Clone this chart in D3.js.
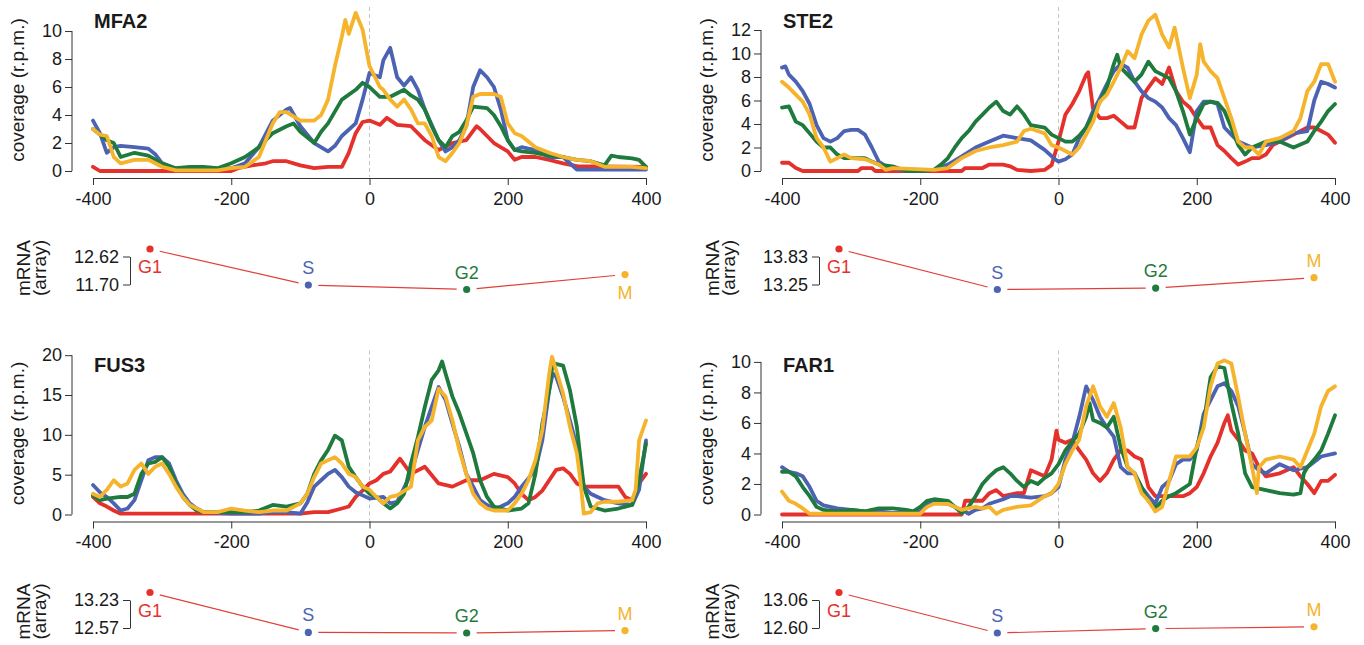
<!DOCTYPE html>
<html>
<head>
<meta charset="utf-8">
<script src="https://cdn.jsdelivr.net/npm/d3@7"></script>
<style>
  body { margin: 0; background: #fff; }
  svg text { font-family: "Liberation Sans", Arial, Helvetica, sans-serif; fill: #1a1a1a; }
</style>
</head>
<body>
<div id="chart"></div>
<script>
// ---- data ----
const phases = ['G1', 'S', 'G2', 'M'];
const xTicks = [-400, -200, 0, 200, 400];

// MFA2 coverage, [position, r.p.m.]
const mfa2_G1 = [[-400,0.3],[-390,0],[-300,0],[-200,0],[-190,0.2],[-170,0.4],[-150,0.55],[-140,0.7],[-120,0.7],[-100,0.4],[-80,0.2],[-60,0.3],[-40,0.3],[-30,1.3],[-20,2.7],[-10,3.5],[0,3.6],[15,3.3],[25,3.8],[40,3.3],[60,3.2],[80,2.2],[100,1.5],[120,2.0],[140,2.2],[155,3.2],[160,3.0],[180,2.0],[200,1.4],[210,0.8],[220,1.0],[240,1.0],[260,0.8],[280,0.55],[300,0.35],[400,0.3]];
const mfa2_S = [[-400,3.6],[-390,2.7],[-380,1.3],[-370,1.7],[-360,1.8],[-340,1.7],[-320,1.6],[-310,1.2],[-300,0.55],[-280,0.1],[-260,0.2],[-240,0.1],[-200,0.2],[-180,0.55],[-160,1.7],[-140,3.6],[-120,4.4],[-115,4.5],[-100,3.2],[-80,2.0],[-60,1.4],[-50,1.8],[-40,2.5],[-20,3.4],[-10,5.1],[0,7.0],[15,6.7],[20,7.9],[30,8.8],[40,6.7],[50,6.1],[60,6.7],[70,5.8],[80,4.4],[100,2.2],[110,1.4],[120,1.7],[130,2.2],[140,3.2],[150,6.0],[160,7.2],[170,6.7],[180,6.0],[190,4.4],[200,2.2],[210,1.5],[220,1.7],[240,1.5],[260,1.0],[280,1.0],[300,0.1],[400,0.1]];
const mfa2_G2 = [[-400,3.0],[-390,2.6],[-380,2.2],[-370,2.0],[-360,1.0],[-340,1.3],[-320,1.1],[-300,0.55],[-280,0.2],[-260,0.3],[-240,0.3],[-220,0.2],[-200,0.55],[-180,1.0],[-160,1.7],[-140,2.7],[-120,3.2],[-110,3.4],[-100,2.8],[-80,2.0],[-70,2.8],[-60,3.4],[-40,5.1],[-20,5.8],[-10,6.3],[0,6.0],[15,5.3],[30,5.3],[50,5.8],[60,5.4],[70,5.1],[80,4.4],[90,3.2],[100,2.2],[110,1.7],[120,2.5],[130,2.8],[140,3.6],[150,4.6],[170,4.5],[180,4.0],[190,3.2],[200,2.2],[210,1.5],[220,1.4],[240,1.3],[260,1.1],[280,1.0],[300,0.8],[320,0.7],[340,0.4],[350,1.1],[360,1.0],[380,0.9],[390,0.8],[400,0.3]];
const mfa2_M = [[-400,3.0],[-390,2.6],[-380,2.5],[-370,1.0],[-360,0.55],[-340,0.8],[-320,0.8],[-300,0.3],[-280,0.05],[-220,0.05],[-200,0.2],[-180,0.3],[-160,1.0],[-150,2.2],[-140,3.4],[-130,4.2],[-120,4.2],[-110,3.9],[-100,3.6],[-80,3.6],[-70,4.0],[-60,5.1],[-50,7.5],[-40,9.6],[-35,10.8],[-30,9.8],[-20,11.3],[-10,10.1],[0,7.5],[15,6.0],[20,5.8],[30,5.1],[40,4.6],[50,5.1],[60,4.4],[70,3.4],[80,3.4],[90,2.5],[100,1.0],[110,0.7],[120,1.3],[130,2.0],[140,3.2],[150,5.3],[160,5.5],[180,5.5],[190,5.3],[200,3.4],[210,2.7],[220,2.5],[240,1.7],[260,1.3],[280,1.0],[300,0.8],[320,0.7],[340,0.3],[380,0.3],[400,0.2]];

// STE2 coverage
const ste2_G1 = [[-400,0.7],[-390,0.7],[-380,0.25],[-370,0],[-290,0],[-285,0.25],[-270,0.25],[-265,0],[-140,0],[-135,0.25],[-110,0.25],[-100,0.55],[-80,0.55],[-70,0.4],[-60,0.1],[-40,0],[-20,0.1],[-10,0.5],[0,2.5],[10,4.8],[20,5.7],[30,6.8],[40,8.2],[43,8.4],[50,5.3],[60,4.5],[70,4.5],[80,4.7],[90,4.2],[100,3.7],[110,3.7],[120,6.2],[130,7.1],[140,7.9],[150,7.4],[160,8.8],[170,6.8],[180,5.9],[190,5.4],[200,4.5],[210,3.7],[220,3.7],[230,2.2],[240,1.7],[250,1.1],[260,0.55],[270,0.8],[280,1.1],[290,1.1],[300,1.4],[310,2.2],[320,2.5],[340,3.1],[360,3.7],[370,3.7],[380,3.4],[390,3.1],[400,2.4]];
const ste2_S = [[-400,8.8],[-395,8.9],[-390,8.2],[-380,7.6],[-370,6.8],[-360,5.7],[-350,3.9],[-340,2.8],[-330,2.5],[-320,2.8],[-310,3.4],[-300,3.5],[-290,3.5],[-280,3.1],[-270,2.0],[-260,0.8],[-250,0.4],[-240,0.25],[-220,0],[-200,0],[-180,0.1],[-160,0.55],[-140,1.25],[-120,2.0],[-100,2.5],[-80,3.0],[-60,2.8],[-40,2.6],[-30,2.2],[-20,1.8],[-5,1.0],[0,0.8],[10,1.0],[20,1.4],[30,2.8],[40,3.7],[50,5.1],[60,6.2],[70,7.4],[80,8.5],[90,9.1],[100,8.8],[110,7.6],[120,6.8],[130,6.2],[140,5.9],[150,5.4],[160,4.5],[170,3.9],[180,2.8],[190,1.6],[200,5.1],[210,5.9],[220,5.9],[230,5.7],[240,3.7],[250,3.1],[260,2.5],[280,2.0],[300,2.2],[320,2.5],[340,3.2],[360,3.4],[370,6.0],[380,7.6],[390,7.4],[400,7.1]];
const ste2_G2 = [[-400,5.4],[-390,5.5],[-380,4.2],[-370,3.9],[-360,3.2],[-350,2.5],[-340,2.0],[-330,2.0],[-320,1.4],[-310,1.1],[-280,1.1],[-270,0.8],[-260,0.55],[-240,0.4],[-220,0],[-200,0],[-180,0.1],[-170,0.55],[-160,1.1],[-150,2.0],[-140,2.8],[-130,3.4],[-120,4.2],[-110,4.8],[-100,5.4],[-90,5.9],[-80,5.1],[-70,4.8],[-60,5.5],[-50,4.8],[-40,3.9],[-20,3.7],[-10,3.1],[0,2.8],[10,2.5],[20,2.5],[30,3.0],[40,3.7],[50,4.8],[60,5.9],[70,7.1],[80,9.1],[85,9.9],[90,8.8],[100,8.2],[110,7.6],[120,8.2],[130,9.3],[140,8.5],[150,8.2],[160,7.9],[170,6.8],[180,5.1],[190,3.1],[200,4.5],[210,5.7],[220,5.9],[230,5.8],[240,5.1],[250,3.7],[260,2.2],[270,1.4],[280,2.0],[300,2.5],[320,2.5],[340,2.0],[360,2.5],[370,3.4],[380,4.2],[390,5.1],[400,5.7]];
const ste2_M = [[-400,7.6],[-390,7.1],[-380,6.5],[-370,5.9],[-360,4.8],[-350,2.8],[-340,2.0],[-330,0.8],[-320,1.1],[-310,1.4],[-300,1.1],[-280,1.0],[-260,0.55],[-250,0.1],[-240,0.25],[-180,0.1],[-160,0.25],[-140,1.1],[-120,1.7],[-100,2.0],[-80,2.2],[-60,2.5],[-50,3.4],[-40,3.6],[-20,3.2],[-10,2.2],[0,2.0],[10,1.7],[20,1.4],[30,2.0],[40,3.1],[50,4.2],[60,5.9],[70,6.5],[80,7.6],[90,8.8],[100,10.2],[110,9.6],[120,11.6],[130,12.8],[140,13.3],[150,11.6],[160,10.5],[168,12.2],[175,10.2],[180,8.8],[190,6.2],[200,8.2],[205,10.8],[210,9.3],[220,8.5],[230,7.9],[240,6.2],[250,4.5],[260,2.5],[270,2.0],[280,2.0],[290,1.4],[300,2.5],[320,2.8],[340,3.4],[350,4.5],[360,6.8],[370,7.6],[380,9.1],[390,9.1],[400,7.6]];

// FUS3 coverage
const fus3_G1 = [[-400,2.2],[-390,1.4],[-380,1.0],[-370,0.5],[-360,0.1],[-100,0.1],[-80,0.3],[-60,0.3],[-40,0.75],[-30,1.0],[-20,2.2],[-10,3.0],[0,3.9],[10,4.3],[20,5.1],[30,5.4],[44,7.0],[60,5.1],[80,6.0],[100,3.9],[120,3.5],[140,4.3],[160,4.3],[180,5.1],[200,4.7],[210,3.9],[220,2.6],[230,1.8],[240,2.2],[250,3.0],[260,4.3],[270,5.6],[280,5.8],[290,5.1],[300,3.9],[310,3.5],[360,3.5],[370,2.2],[380,1.8],[390,3.9],[400,5.1]];
const fus3_S = [[-400,3.7],[-390,2.8],[-380,2.2],[-370,1.4],[-360,0.5],[-350,0.75],[-340,1.8],[-330,4.3],[-320,6.8],[-310,7.2],[-300,7.2],[-290,6.4],[-280,4.3],[-270,2.6],[-260,1.4],[-250,0.75],[-240,0.3],[-200,0.1],[-160,0.1],[-140,0.3],[-120,0.3],[-100,0.1],[-90,1.5],[-80,3.5],[-70,4.3],[-60,5.1],[-50,5.6],[-40,4.7],[-30,3.5],[-20,2.8],[-10,2.4],[0,2.0],[20,2.2],[30,1.4],[40,1.6],[60,5.1],[70,8.1],[80,11.0],[90,13.5],[100,16.0],[110,14.4],[120,11.4],[130,8.5],[140,5.1],[150,3.5],[160,1.8],[170,1.2],[180,0.75],[190,1.0],[200,1.4],[210,2.2],[220,3.5],[240,5.6],[250,9.3],[260,15.6],[265,17.7],[270,17.3],[280,14.8],[290,11.8],[300,8.5],[310,3.5],[320,2.6],[340,1.8],[360,1.4],[380,1.2],[390,3.1],[400,9.3]];
const fus3_G2 = [[-400,2.4],[-390,1.8],[-380,2.0],[-360,2.2],[-350,2.2],[-340,2.6],[-330,5.1],[-320,6.4],[-310,6.6],[-300,7.2],[-290,6.0],[-280,3.9],[-270,2.2],[-260,1.2],[-250,0.5],[-240,0.3],[-180,0.3],[-160,0.5],[-140,1.2],[-120,1.0],[-100,1.4],[-90,2.6],[-80,5.1],[-70,6.8],[-60,8.1],[-50,9.9],[-40,9.3],[-30,6.0],[-20,4.7],[-10,3.5],[0,2.6],[10,2.2],[20,1.4],[30,0.75],[40,1.4],[50,2.6],[60,6.4],[70,9.7],[80,13.5],[90,16.9],[100,18.1],[105,19.2],[110,17.7],[120,14.8],[130,12.7],[140,10.2],[150,7.7],[160,4.3],[170,2.2],[180,1.0],[200,0.5],[220,0.75],[230,1.4],[240,5.1],[250,11.4],[260,15.6],[265,19.0],[280,18.7],[290,15.6],[300,11.0],[310,3.5],[320,1.0],[340,0.5],[360,0.75],[380,1.2],[390,4.3],[400,8.9]];
const fus3_M = [[-400,2.6],[-390,2.2],[-380,3.1],[-370,4.3],[-360,3.5],[-350,3.9],[-340,5.6],[-330,6.4],[-320,5.1],[-310,6.0],[-300,6.4],[-290,5.1],[-280,3.5],[-270,2.2],[-260,1.2],[-250,0.75],[-240,0.3],[-220,0.3],[-200,0.75],[-180,0.5],[-160,0.3],[-140,0.5],[-120,0.5],[-100,1.4],[-90,2.6],[-80,4.7],[-70,6.4],[-60,6.8],[-50,7.2],[-40,6.4],[-30,5.1],[-20,4.7],[-10,3.5],[0,3.1],[10,2.2],[20,1.4],[30,2.2],[40,2.4],[60,3.5],[70,9.3],[80,11.0],[90,11.8],[100,15.8],[110,14.8],[120,11.8],[130,8.1],[140,5.1],[150,2.6],[160,1.4],[170,0.75],[180,0.5],[200,0.5],[210,1.4],[220,2.6],[230,4.3],[240,6.8],[250,10.6],[260,17.7],[264,19.8],[270,18.1],[280,15.2],[290,11.0],[300,7.7],[305,4.3],[310,0.1],[320,0.3],[330,1.4],[340,1.6],[360,1.6],[380,1.8],[385,3.1],[390,9.3],[400,11.8]];

// FAR1 coverage
const far1_G1 = [[-400,0],[-140,0],[-135,0.9],[-110,0.9],[-100,1.4],[-90,1.6],[-80,1.2],[-70,1.3],[-60,1.4],[-50,1.4],[-40,2.9],[-30,2.7],[-20,2.5],[-10,3.6],[-3,5.5],[0,4.9],[10,4.7],[20,4.9],[30,4.2],[40,3.6],[50,2.7],[60,2.2],[70,2.7],[80,3.6],[90,4.2],[100,4.2],[110,3.8],[120,3.6],[130,1.8],[140,1.2],[180,1.2],[190,1.4],[200,1.8],[210,2.7],[220,3.8],[230,4.7],[240,6.0],[245,6.5],[250,5.5],[260,4.9],[270,4.2],[280,4.0],[290,3.1],[300,2.5],[320,2.7],[340,3.1],[350,2.5],[360,2.0],[370,1.4],[380,2.2],[390,2.2],[400,2.6]];
const far1_S = [[-400,3.1],[-390,2.8],[-380,2.7],[-370,2.5],[-360,1.8],[-350,0.9],[-340,0.6],[-330,0.5],[-320,0.4],[-300,0.3],[-280,0.2],[-260,0.2],[-240,0.1],[-220,0.1],[-200,0.2],[-190,0.7],[-180,0.8],[-160,0.7],[-150,0.5],[-140,0.3],[-130,0.05],[-120,0.3],[-110,0.4],[-100,0.7],[-80,1.0],[-70,1.2],[-60,1.2],[-40,1.1],[-20,1.2],[-10,1.4],[0,1.8],[10,3.6],[20,4.7],[30,6.4],[40,8.4],[50,7.5],[60,6.4],[70,5.7],[80,5.1],[90,3.1],[100,2.7],[110,2.7],[120,1.8],[130,1.2],[140,0.7],[150,1.8],[160,2.2],[170,3.3],[180,3.6],[190,3.6],[200,4.2],[210,6.6],[220,7.5],[230,8.4],[240,8.6],[250,8.1],[260,7.1],[270,5.3],[280,3.3],[290,2.9],[300,2.7],[320,3.3],[340,2.9],[360,3.1],[380,3.8],[400,4.0]];
const far1_G2 = [[-400,2.8],[-390,2.8],[-380,2.5],[-370,1.8],[-360,1.2],[-350,0.5],[-340,0.3],[-320,0.2],[-300,0.3],[-280,0.2],[-260,0.4],[-240,0.4],[-220,0.3],[-210,0.2],[-200,0.5],[-190,0.9],[-180,1.0],[-160,0.9],[-150,0.5],[-140,0.1],[-130,0.5],[-120,1.2],[-110,2.0],[-100,2.5],[-90,2.9],[-80,3.1],[-70,2.7],[-60,2.2],[-50,1.8],[-40,2.2],[-30,2.0],[-20,2.4],[-10,2.7],[0,3.3],[10,4.2],[20,4.8],[30,5.3],[40,6.4],[45,7.3],[50,6.2],[60,6.0],[70,5.7],[80,6.4],[90,4.4],[100,3.1],[110,2.7],[120,1.8],[130,0.9],[140,0.4],[150,0.9],[160,1.2],[170,1.4],[180,1.7],[190,2.0],[200,4.4],[210,6.0],[220,9.0],[230,9.7],[240,9.6],[250,7.3],[260,5.3],[270,2.7],[280,1.8],[290,1.7],[300,1.6],[320,1.4],[340,1.3],[350,1.4],[355,2.7],[360,3.1],[370,3.6],[380,4.2],[390,5.3],[400,6.5]];
const far1_M = [[-400,1.5],[-390,0.9],[-380,0.7],[-370,0.4],[-360,0.05],[-200,0.05],[-195,0.3],[-190,0.5],[-180,0.7],[-160,0.7],[-150,0.5],[-140,0.3],[-130,0.4],[-120,0.5],[-110,0.4],[-100,0.5],[-90,0.05],[-80,0.3],[-60,0.5],[-40,0.6],[-20,1.2],[-10,1.4],[0,2.0],[10,3.3],[20,4.2],[30,4.9],[40,7.1],[50,8.4],[60,7.1],[70,6.4],[80,7.3],[90,5.7],[100,3.1],[110,2.7],[120,1.4],[130,0.9],[140,0.2],[150,0.5],[160,2.2],[170,3.8],[190,3.8],[200,4.4],[210,5.7],[220,8.4],[230,9.9],[240,10.1],[250,9.9],[260,7.7],[270,5.3],[280,3.1],[287,1.4],[290,3.1],[300,3.6],[320,3.8],[340,3.6],[350,3.1],[360,4.2],[370,5.3],[380,7.1],[390,8.1],[400,8.4]];

// mRNA (array) per phase G1, S, G2, M
const mfa2_mrna = [12.62, 11.80, 11.70, 12.04];
const ste2_mrna = [13.83, 13.25, 13.27, 13.42];
const fus3_mrna = [13.23, 12.58, 12.57, 12.61];
const far1_mrna = [13.06, 12.60, 12.65, 12.67];

// y tick labels
const mfa2_yTicks = [0, 2, 4, 6, 8, 10];
const ste2_yTicks = [0, 2, 4, 6, 8, 10, 12];
const fus3_yTicks = [0, 5, 10, 15, 20];
const far1_yTicks = [0, 2, 4, 6, 8, 10];

// ---- layout ----
const colors = { G1: '#e5312b', S: '#4c63b3', G2: '#1f7a3d', M: '#f5b42c' };

const panels = [
  { gene: 'MFA2', cov: [mfa2_G1, mfa2_S, mfa2_G2, mfa2_M], mrna: mfa2_mrna, yTicks: mfa2_yTicks, yMax: 11.36, dx: 0,   dy: 0,     side: ['below', 'above', 'above', 'below'] },
  { gene: 'STE2', cov: [ste2_G1, ste2_S, ste2_G2, ste2_M], mrna: ste2_mrna, yTicks: ste2_yTicks, yMax: 13.53, dx: 689, dy: 0,     side: ['below', 'above', 'above', 'above'] },
  { gene: 'FUS3', cov: [fus3_G1, fus3_S, fus3_G2, fus3_M], mrna: fus3_mrna, yTicks: fus3_yTicks, yMax: 19.96, dx: 0,   dy: 343.5, side: ['below', 'above', 'above', 'above'] },
  { gene: 'FAR1', cov: [far1_G1, far1_S, far1_G2, far1_M], mrna: far1_mrna, yTicks: far1_yTicks, yMax: 10.42, dx: 689, dy: 343.5, side: ['below', 'above', 'above', 'above'] }
];

const svg = d3.select('#chart').append('svg')
  .attr('width', 1364)
  .attr('height', 645);

panels.forEach(function (p) {
  const g = svg.append('g').attr('transform', 'translate(' + p.dx + ',' + p.dy + ')');

  const x = d3.scaleLinear().domain([-400, 400]).range([93, 646]);
  const y = d3.scaleLinear().domain([0, p.yMax]).range([171, 12]);

  // dashed line at 0
  g.append('line')
    .attr('x1', x(0)).attr('x2', x(0))
    .attr('y1', 7).attr('y2', 177)
    .attr('stroke', '#c4c4c4')
    .attr('stroke-width', 1)
    .attr('stroke-dasharray', '4,3');

  // coverage lines
  const line = d3.line().x(d => x(d[0])).y(d => y(d[1]));
  p.cov.forEach(function (s, i) {
    g.append('path')
      .datum(s)
      .attr('d', line)
      .attr('fill', 'none')
      .attr('stroke', colors[phases[i]])
      .attr('stroke-width', 3.8)
      .attr('stroke-linejoin', 'round')
      .attr('stroke-linecap', 'round');
  });

  // x axis
  const xAxis = g.append('g')
    .attr('transform', 'translate(0,178)')
    .call(d3.axisBottom(x).tickValues(xTicks).tickSize(7).tickSizeOuter(0).tickPadding(7)
      .tickFormat(d => d < 0 ? '-' + Math.abs(d) : d));
  xAxis.select('.domain').attr('stroke', '#333');
  xAxis.selectAll('.tick line').attr('stroke', '#333');
  xAxis.selectAll('text').style('font-size', '18px').attr('fill', '#1a1a1a');

  // y axis (line spans only the ticks)
  const yAxis = g.append('g')
    .attr('transform', 'translate(72,0)')
    .call(d3.axisLeft(y).tickValues(p.yTicks).tickSize(7).tickPadding(3));
  yAxis.select('.domain').remove();
  yAxis.append('line')
    .attr('y1', y(0)).attr('y2', y(d3.max(p.yTicks)))
    .attr('stroke', '#333');
  yAxis.selectAll('.tick line').attr('stroke', '#333');
  yAxis.selectAll('text').style('font-size', '18px').attr('fill', '#1a1a1a');

  g.append('text')
    .attr('transform', 'translate(24,90) rotate(-90)')
    .attr('text-anchor', 'middle')
    .style('font-size', '19px')
    .text('coverage (r.p.m.)');

  g.append('text')
    .attr('x', 94).attr('y', 28)
    .style('font-size', '20px')
    .style('font-weight', 'bold')
    .text(p.gene);

  // ---- mRNA strip ----
  const px = d3.scalePoint().domain(phases).range([150, 625]);
  const lo = d3.min(p.mrna), hi = d3.max(p.mrna);
  const my = d3.scaleLinear().domain([lo, hi]).range([289.5, 249]);
  const myAxis = d3.scaleLinear().domain([lo, hi]).range([284.5, 256.5]);

  const bracket = g.append('g')
    .attr('transform', 'translate(130,0)')
    .call(d3.axisLeft(myAxis).tickValues([lo, hi]).tickSize(7).tickSizeOuter(0).tickPadding(4)
      .tickFormat(d3.format('.2f')));
  bracket.select('.domain').attr('stroke', '#333');
  bracket.selectAll('.tick line').attr('stroke', '#333');
  bracket.selectAll('text').style('font-size', '18px').attr('fill', '#1a1a1a');

  const mLabel = g.append('text')
    .attr('transform', 'translate(0,268) rotate(-90)')
    .attr('text-anchor', 'middle')
    .style('font-size', '19px');
  mLabel.append('tspan').attr('x', 0).attr('y', 30).text('mRNA');
  mLabel.append('tspan').attr('x', 0).attr('y', 46).text('(array)');

  const pts = phases.map((ph, i) => ({ ph: ph, v: p.mrna[i], side: p.side[i] }));

  // connecting segments with gaps around the points
  const gap = 10;
  for (let i = 0; i < pts.length - 1; i++) {
    const x1 = px(pts[i].ph), y1 = my(pts[i].v);
    const x2 = px(pts[i + 1].ph), y2 = my(pts[i + 1].v);
    const len = Math.hypot(x2 - x1, y2 - y1);
    const ux = (x2 - x1) / len, uy = (y2 - y1) / len;
    g.append('line')
      .attr('x1', x1 + ux * gap).attr('y1', y1 + uy * gap)
      .attr('x2', x2 - ux * gap).attr('y2', y2 - uy * gap)
      .attr('stroke', '#e0403a')
      .attr('stroke-width', 1.2);
  }

  g.selectAll('circle.mrna')
    .data(pts)
    .enter()
    .append('circle')
    .attr('class', 'mrna')
    .attr('cx', d => px(d.ph))
    .attr('cy', d => my(d.v))
    .attr('r', 3.6)
    .attr('fill', d => colors[d.ph]);

  g.selectAll('text.phase')
    .data(pts)
    .enter()
    .append('text')
    .attr('class', 'phase')
    .attr('x', d => px(d.ph))
    .attr('y', d => d.side === 'above' ? my(d.v) - 11 : my(d.v) + 24)
    .attr('text-anchor', 'middle')
    .style('font-size', '18px')
    .style('fill', d => colors[d.ph])
    .text(d => d.ph);
});
</script>
</body>
</html>
